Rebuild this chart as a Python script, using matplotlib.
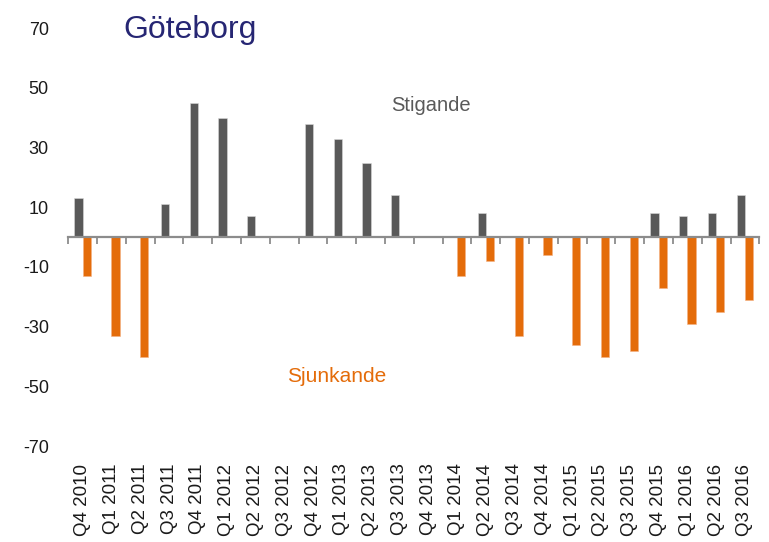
import matplotlib
matplotlib.use("Agg")
import matplotlib.pyplot as plt
import numpy as np
from matplotlib.ticker import FixedLocator

plt.rcParams['font.family'] = ['Liberation Sans', 'DejaVu Sans']

quarters = ["Q4 2010", "Q1 2011", "Q2 2011", "Q3 2011", "Q4 2011", "Q1 2012",
            "Q2 2012", "Q3 2012", "Q4 2012", "Q1 2013", "Q2 2013", "Q3 2013",
            "Q4 2013", "Q1 2014", "Q2 2014", "Q3 2014", "Q4 2014", "Q1 2015",
            "Q2 2015", "Q3 2015", "Q4 2015", "Q1 2016", "Q2 2016", "Q3 2016"]
stigande = [13, 0, 0, 11, 45, 40, 7, 0, 38, 33, 25, 14,
            0, 0, 8, 0, 0, 0, 0, 0, 8, 7, 8, 14]
sjunkande = [-13, -33, -40, 0, 0, 0, 0, 0, 0, 0, 0, 0,
             0, -13, -8, -33, -6, -36, -40, -38, -17, -29, -25, -21]
yticks = [70, 50, 30, 10, -10, -30, -50, -70]

GRAY = "#595959"
ORANGE = "#E46C0A"
AXIS = "#8C8C8C"

fig = plt.figure(figsize=(7.69, 5.42), dpi=100)
ax = fig.add_axes([0.0888, 0.177, 0.8986, 0.771])

x = np.arange(len(quarters))
w = 0.285
ax.bar(x - w / 2, stigande, width=w, color=GRAY, edgecolor="#D9D9D9", linewidth=0.4)
ax.bar(x + w / 2, sjunkande, width=w, color=ORANGE, edgecolor="#F4B183", linewidth=0.4)

ax.set_xlim(-0.5, len(quarters) - 0.5)
ax.set_ylim(-70, 70)
ax.set_yticks(yticks)
ax.set_yticklabels([str(v) for v in yticks])
ax.tick_params(axis='y', length=0, pad=14, labelsize=13, labelcolor="#1a1a1a")

for s in ["left", "right", "top"]:
    ax.spines[s].set_visible(False)
ax.spines["bottom"].set_position(("data", 0))
ax.spines["bottom"].set_color(AXIS)
ax.spines["bottom"].set_linewidth(1.6)

ax.set_xticks(x)
ax.set_xticklabels(quarters, rotation=90, va="top", ha="center")
ax.xaxis.set_minor_locator(FixedLocator(np.arange(-0.5, len(quarters), 1.0)))
ax.tick_params(axis='x', which='major', length=0, pad=163, labelsize=13.5, labelcolor="#1a1a1a")
ax.tick_params(axis='x', which='minor', length=5, width=1.3, color=AXIS, direction='out')

ax.text(10.72, 44, "Stigande", color=GRAY, fontsize=14.5, ha="left", va="center")
ax.text(7.1, -46.7, "Sjunkande", color=ORANGE, fontsize=15, ha="left", va="center")

fig.text(0.161, 0.93, "Göteborg", color="#262673", fontsize=23, ha="left", va="baseline")

fig.savefig("out.png", dpi=100)
